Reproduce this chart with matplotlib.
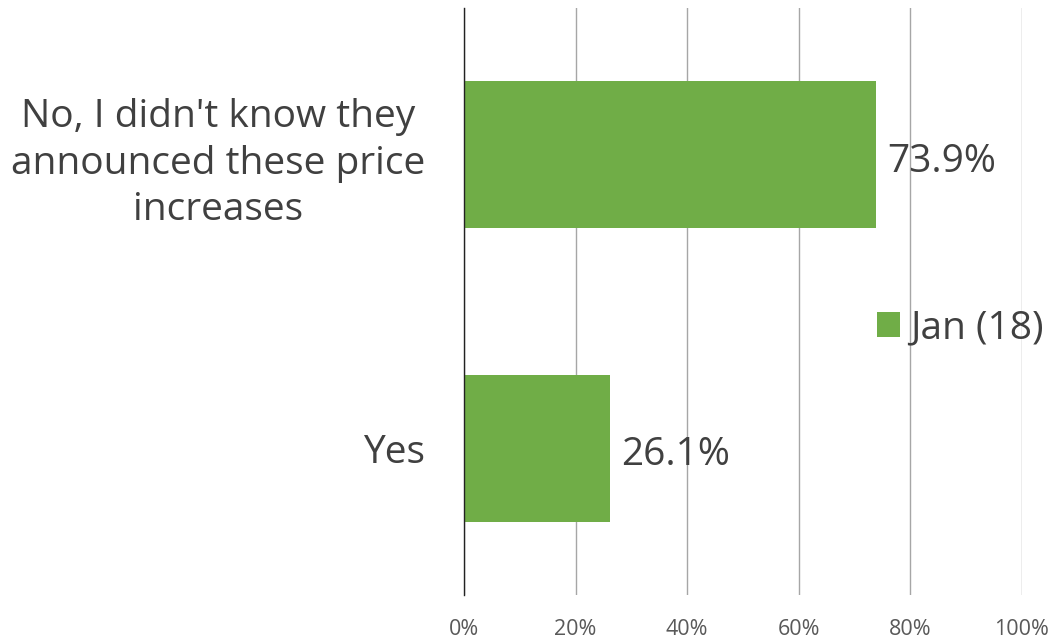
import matplotlib
matplotlib.use("Agg")
import matplotlib.pyplot as plt
from matplotlib.ticker import FuncFormatter
from matplotlib.transforms import offset_copy

categories = ["No, I didn't know they\nannounced these price\nincreases", "Yes"]
values = [73.9, 26.1]
series_name = "Jan (18)"
xticks = [0, 20, 40, 60, 80, 100]

plt.rcParams['font.family'] = ['Open Sans', 'DejaVu Sans']
fig = plt.figure(figsize=(10.55, 6.41), dpi=100)
ax = fig.add_axes([0.4398, 0.0718, 0.5289, 0.9157])

green = '#70AD47'
text_col = '#404040'
ypos = list(range(len(categories)))
bars = ax.barh(ypos, values, height=0.5, color=green, label=series_name, zorder=3)
ax.set_ylim(len(categories) - 0.5, -0.5)
ax.set_xlim(0, 100)
ax.set_yticks(ypos)
ax.set_yticklabels(categories, fontsize=28, color=text_col, linespacing=1.3)
for lab in ax.get_yticklabels():
    lab.set_multialignment('center')
ax.set_xticks(xticks)
ax.xaxis.set_major_formatter(FuncFormatter(lambda v, p: f"{v:.0f}%"))
ax.tick_params(axis='x', labelsize=15.5, colors='#595959', length=0, pad=17)
ax.tick_params(axis='y', length=0, pad=28)
ax.grid(axis='x', color='#A6A6A6', linewidth=1.0, zorder=0)
for s in ['top', 'right', 'bottom']:
    ax.spines[s].set_visible(False)
ax.spines['left'].set_color('#222222')
ax.spines['left'].set_linewidth(1.0)
ax.spines['left'].set_zorder(4)

lab_tr = offset_copy(ax.transData, fig=fig, x=0, y=-5, units='points')
for b, v in zip(bars, values):
    ax.text(v + 2, b.get_y() + b.get_height() / 2, f"{v:.1f}%", va='center', ha='left',
            fontsize=28, color=text_col, zorder=5, transform=lab_tr)

leg = ax.legend(loc='center left', bbox_to_anchor=(0.677, 0.455), frameon=False,
                fontsize=28, handlelength=0.6, handleheight=0.6, handletextpad=0.25,
                labelcolor=text_col)

fig.savefig("out.png", dpi=100, facecolor='white')
